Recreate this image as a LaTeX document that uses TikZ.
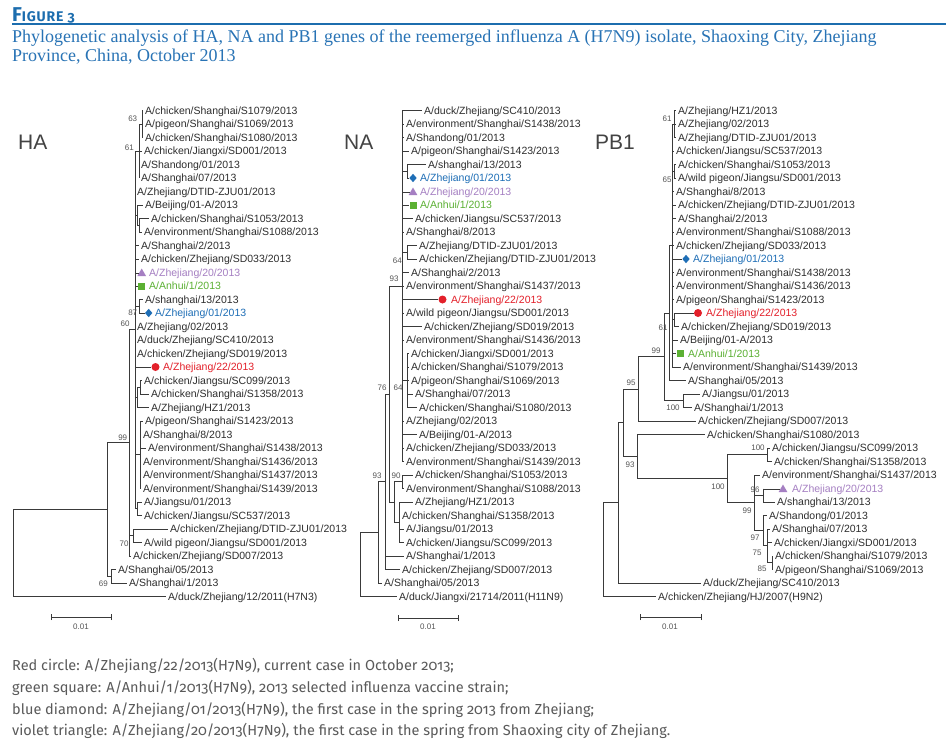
\documentclass[tikz,border=0pt]{standalone}
\usepackage{fontspec}
\setmainfont{Liberation Serif}
\newfontfamily\lblfont{Liberation Sans}
\newfontfamily\legfont{Fira Sans}[Numbers=OldStyle]
\newfontfamily\figfont{Fira Sans}[Numbers=OldStyle,LetterSpace=6]
\usetikzlibrary{shapes.geometric}
\definecolor{linec}{HTML}{3A3A3A}
\definecolor{txtc}{HTML}{2E2E2E}
\definecolor{bsc}{HTML}{555555}
\definecolor{redc}{HTML}{E3202A}
\definecolor{greenc}{HTML}{5BB033}
\definecolor{bluec}{HTML}{1E6EB6}
\definecolor{violetc}{HTML}{A57FC2}
\definecolor{figblue}{HTML}{1C6DAE}
\definecolor{capblue}{HTML}{2873B5}
\definecolor{legc}{HTML}{5A5A5A}
\tikzset{
  br/.style={draw=linec, line width=0.9pt},
  lf/.style={anchor=west, inner sep=0pt, text height=7.5pt, text depth=0pt,
    font=\lblfont\fontsize{10.5}{12}\selectfont, text=txtc},
  bsn/.style={inner sep=0pt, font=\lblfont\fontsize{8}{9}\selectfont, text=bsc},
  gname/.style={anchor=west, inner sep=0pt, font=\lblfont\fontsize{21}{24}\selectfont, text=txtc!90},
  mcirc/.style={circle, fill=redc, minimum size=8pt, inner sep=0pt},
  msq/.style={rectangle, fill=greenc, minimum size=7pt, inner sep=0pt},
  mdia/.style={diamond, fill=bluec, minimum width=7.5pt, minimum height=8.5pt, inner sep=0pt},
  mtri/.style={regular polygon, regular polygon sides=3, fill=violetc, minimum size=10pt, inner sep=0pt},
  legl/.style={anchor=base west, inner sep=0pt, font=\legfont\fontsize{14.5}{16}\selectfont, text=legc},
  capl/.style={anchor=base west, inner sep=0pt, font=\fontsize{18}{20}\selectfont, text=capblue},
}
\newcommand\vln[3]{\draw[br] (#1 |- #2) -- (#1 |- #3);}
\newcommand\hln[2]{\draw[br] (#1 |- #2) -- (#2);}
\newcommand\tips[2]{\foreach \t in {#2}{\draw[br] (#1 |- \t) -- ([xshift=-2pt]\t.west);}}
\newcommand\mtip[2]{\draw[br] (#1 |- #2) -- (#2.west);}
\begin{document}
\begin{tikzpicture}[x=1pt,y=-1pt]
\useasboundingbox[fill=white] (0,0) rectangle (949,741);

% ---------- title ----------
\node[anchor=base west, inner sep=0pt, text=figblue, font=\figfont\bfseries] (fig) at (12,21.5)
  {{\fontsize{20}{20}\selectfont F}{\fontsize{14}{14}\selectfont IGURE 3}};
\draw[figblue, line width=2pt] (12,24) -- (946,24);
\node[capl] (cap1) at (12,43) {Phylogenetic analysis of HA, NA and PB1 genes of the reemerged influenza A (H7N9) isolate, Shaoxing City, Zhejiang};
\node[capl] (cap2) at (12,62) {Province, China, October 2013};

% ---------- group names ----------
\node[gname] (tHA) at (18,142.5) {HA};
\node[gname] (tNA) at (344,142.5) {NA};
\node[gname] (tPB) at (595,142.5) {PB1};

% =============== HA ===============
\node[lf] (a1) at (145,110.5) {A/chicken/Shanghai/S1079/2013};
\node[lf] (a2) at (145,124) {A/pigeon/Shanghai/S1069/2013};
\node[lf] (a3) at (145,137.5) {A/chicken/Shanghai/S1080/2013};
\node[lf] (a4) at (144,151) {A/chicken/Jiangxi/SD001/2013};
\node[lf] (a5) at (141,164.5) {A/Shandong/01/2013};
\node[lf] (a6) at (141,178) {A/Shanghai/07/2013};
\node[lf] (a7) at (137,191.5) {A/Zhejiang/DTID-ZJU01/2013};
\node[lf] (a8) at (145,205) {A/Beijing/01-A/2013};
\node[lf] (a9) at (151,218.5) {A/chicken/Shanghai/S1053/2013};
\node[lf] (a10) at (144,232) {A/environment/Shanghai/S1088/2013};
\node[lf] (a11) at (141,245.5) {A/Shanghai/2/2013};
\node[lf] (a12) at (141,259) {A/chicken/Zhejiang/SD033/2013};
\node[mtri] (am13) at (141.7,273.5) {};
\node[lf,text=violetc] (a13) at (149,272.5) {A/Zhejiang/20/2013};
\node[msq] (am14) at (141.7,286) {};
\node[lf,text=greenc] (a14) at (149,286) {A/Anhui/1/2013};
\node[lf] (a15) at (145,299.5) {A/shanghai/13/2013};
\node[mdia] (am16) at (148.7,313) {};
\node[lf,text=bluec] (a16) at (155,313) {A/Zhejiang/01/2013};
\node[lf] (a17) at (137,326.5) {A/Zhejiang/02/2013};
\node[lf] (a18) at (137,340) {A/duck/Zhejiang/SC410/2013};
\node[lf] (a19) at (137,353.5) {A/chicken/Zhejiang/SD019/2013};
\node[mcirc] (am20) at (155.5,367) {};
\node[lf,text=redc] (a20) at (163,367) {A/Zhejiang/22/2013};
\node[lf] (a21) at (144,380.5) {A/chicken/Jiangsu/SC099/2013};
\node[lf] (a22) at (151,394) {A/chicken/Shanghai/S1358/2013};
\node[lf] (a23) at (151,407.5) {A/Zhejiang/HZ1/2013};
\node[lf] (a24) at (145,421) {A/pigeon/Shanghai/S1423/2013};
\node[lf] (a25) at (143,434.5) {A/Shanghai/8/2013};
\node[lf] (a26) at (148,448) {A/environment/Shanghai/S1438/2013};
\node[lf] (a27) at (143,461.5) {A/environment/Shanghai/S1436/2013};
\node[lf] (a28) at (143,475) {A/environment/Shanghai/S1437/2013};
\node[lf] (a29) at (143,488.5) {A/environment/Shanghai/S1439/2013};
\node[lf] (a30) at (144,502) {A/Jiangsu/01/2013};
\node[lf] (a31) at (144,515.5) {A/chicken/Jiangsu/SC537/2013};
\node[lf] (a32) at (170,529) {A/chicken/Zhejiang/DTID-ZJU01/2013};
\node[lf] (a33) at (144,542.5) {A/wild pigeon/Jiangsu/SD001/2013};
\node[lf] (a34) at (133,556) {A/chicken/Zhejiang/SD007/2013};
\node[lf] (a35) at (118,569.5) {A/Shanghai/05/2013};
\node[lf] (a36) at (129,583) {A/Shanghai/1/2013};
\node[lf] (a37) at (168,596.5) {A/duck/Zhejiang/12/2011(H7N3)};

\coordinate (aR) at (13,553);
\coordinate (aA) at (107,509.6);
\coordinate (a69) at (111,576.25);
\coordinate (a99) at (129,442.9);
\coordinate (a60) at (135,329.9);
\coordinate (a61) at (139,151);
\coordinate (a63) at (142,124);
\coordinate (aX) at (137,215.1);
\coordinate (aX2) at (139,225.25);
\coordinate (a87) at (139,306.25);
\coordinate (aY) at (137,397.4);
\coordinate (aZ) at (140,387.25);
\coordinate (aW) at (140,454.75);
\coordinate (aV) at (137,508.75);
\coordinate (a70) at (133,535.75);

\vln{aR}{aA}{a37}
\vln{aA}{a99}{a69}
\vln{a69}{a35}{a36}
\vln{a99}{a60}{a34}
\vln{a60}{a61}{aV}
\vln{a61}{a63}{a6}
\vln{a63}{a1}{a3}
\vln{aX}{a8}{aX2}
\vln{aX2}{a9}{a10}
\vln{a87}{a15}{a16}
\vln{aY}{aZ}{a23}
\vln{aZ}{a21}{a22}
\vln{aW}{a24}{a29}
\vln{aV}{a30}{a31}
\vln{a70}{a32}{a33}
\hln{aR}{aA} \hln{aA}{a99} \hln{aA}{a69} \hln{a99}{a60} \hln{a99}{a70}
\hln{a60}{a61} \hln{a61}{a63} \hln{a60}{aX} \hln{aX}{aX2} \hln{a60}{a87}
\hln{a60}{aY} \hln{aY}{aZ} \hln{a60}{aW} \hln{a60}{aV}
\tips{a63}{a1,a2,a3}
\tips{a61}{a4,a5,a6}
\tips{a60}{a7,a11,a12,a17,a18,a19}
\tips{aX}{a8}
\tips{aX2}{a9,a10}
\tips{a87}{a15}
\mtip{a87}{am16} \mtip{a60}{am13} \mtip{a60}{am14} \mtip{a60}{am20}
\tips{aZ}{a21,a22}
\tips{aY}{a23}
\tips{aW}{a24,a25,a26,a27,a28,a29}
\tips{aV}{a30,a31}
\tips{a70}{a32,a33}
\tips{a99}{a34}
\tips{a69}{a35,a36}
\tips{aR}{a37}

\node[bsn] (ab63) at (132.7,118.3) {63};
\node[bsn] (ab61) at (129.3,147.7) {61};
\node[bsn] (ab87) at (132.7,312.3) {87};
\node[bsn] (ab60) at (125,324) {60};
\node[bsn] (ab99) at (122.7,437.7) {99};
\node[bsn] (ab70) at (124,543.3) {70};
\node[bsn] (ab69) at (103.3,583.3) {69};

\coordinate (sa1) at (51,617); \coordinate (sa2) at (111,617);
\draw[br] (sa1) -- (sa2);
\draw[br] ([yshift=-3pt]sa1) -- ([yshift=3pt]sa1);
\draw[br] ([yshift=-3pt]sa2) -- ([yshift=3pt]sa2);
\node[bsn] (sal) at (81,627) {0.01};

% =============== NA ===============
\node[lf] (b1) at (424,110.5) {A/duck/Zhejiang/SC410/2013};
\node[lf] (b2) at (406,124) {A/environment/Shanghai/S1438/2013};
\node[lf] (b3) at (406,137.5) {A/Shandong/01/2013};
\node[lf] (b4) at (411,151) {A/pigeon/Shanghai/S1423/2013};
\node[lf] (b5) at (428,164.5) {A/shanghai/13/2013};
\node[mdia] (bm6) at (413,178) {};
\node[lf,text=bluec] (b6) at (420,178) {A/Zhejiang/01/2013};
\node[mtri] (bm7) at (413,192.5) {};
\node[lf,text=violetc] (b7) at (420,191.5) {A/Zhejiang/20/2013};
\node[msq] (bm8) at (413,205) {};
\node[lf,text=greenc] (b8) at (420,205) {A/Anhui/1/2013};
\node[lf] (b9) at (415,218.5) {A/chicken/Jiangsu/SC537/2013};
\node[lf] (b10) at (406,232) {A/Shanghai/8/2013};
\node[lf] (b11) at (419,245.5) {A/Zhejiang/DTID-ZJU01/2013};
\node[lf] (b12) at (419,259) {A/chicken/Zhejiang/DTID-ZJU01/2013};
\node[lf] (b13) at (411,272.5) {A/Shanghai/2/2013};
\node[lf] (b14) at (406,286) {A/environment/Shanghai/S1437/2013};
\node[mcirc] (bm15) at (442.5,299.5) {};
\node[lf,text=redc] (b15) at (451,299.5) {A/Zhejiang/22/2013};
\node[lf] (b16) at (406,313) {A/wild pigeon/Jiangsu/SD001/2013};
\node[lf] (b17) at (424,326.5) {A/chicken/Zhejiang/SD019/2013};
\node[lf] (b18) at (406,340) {A/environment/Shanghai/S1436/2013};
\node[lf] (b19) at (411,353.5) {A/chicken/Jiangxi/SD001/2013};
\node[lf] (b20) at (411,367) {A/chicken/Shanghai/S1079/2013};
\node[lf] (b21) at (411,380.5) {A/pigeon/Shanghai/S1069/2013};
\node[lf] (b22) at (415,394) {A/Shanghai/07/2013};
\node[lf] (b23) at (419,407.5) {A/chicken/Shanghai/S1080/2013};
\node[lf] (b24) at (406,421) {A/Zhejiang/02/2013};
\node[lf] (b25) at (419,434.5) {A/Beijing/01-A/2013};
\node[lf] (b26) at (406,448) {A/chicken/Zhejiang/SD033/2013};
\node[lf] (b27) at (406,461.5) {A/environment/Shanghai/S1439/2013};
\node[lf] (b28) at (415,475) {A/chicken/Shanghai/S1053/2013};
\node[lf] (b29) at (406,488.5) {A/environment/Shanghai/S1088/2013};
\node[lf] (b30) at (415,502) {A/Zhejiang/HZ1/2013};
\node[lf] (b31) at (402,515.5) {A/chicken/Shanghai/S1358/2013};
\node[lf] (b32) at (406,529) {A/Jiangsu/01/2013};
\node[lf] (b33) at (406,542.5) {A/chicken/Jiangsu/SC099/2013};
\node[lf] (b34) at (406,556) {A/Shanghai/1/2013};
\node[lf] (b35) at (402,569.5) {A/chicken/Zhejiang/SD007/2013};
\node[lf] (b36) at (384,583) {A/Shanghai/05/2013};
\node[lf] (b37) at (399,596.5) {A/duck/Jiangxi/21714/2011(H11N9)};

\coordinate (bR) at (360,560);
\coordinate (b93b) at (378,532.4);
\coordinate (b76) at (385,481.75);
\coordinate (b93a) at (389,394);
\coordinate (bbb) at (402,286);
\coordinate (b5n) at (407,171.25);
\coordinate (b11n) at (407,252.25);
\coordinate (b64) at (407,380.5);
\coordinate (bRn) at (394,502);
\coordinate (b90) at (402,481.75);
\coordinate (bQ) at (399,522.25);

\vln{bR}{b93b}{b37}
\vln{b93b}{b76}{b36}
\vln{b76}{b93a}{b35}
\vln{b93a}{bbb}{bRn}
\vln{bbb}{b1}{b27}
\vln{b5n}{b5}{b6}
\vln{b11n}{b11}{b12}
\vln{b64}{b19}{b23}
\vln{bRn}{b90}{bQ}
\vln{b90}{b28}{b29}
\vln{bQ}{b30}{b33}
\hln{bR}{b93b} \hln{b93b}{b76} \hln{b76}{b93a} \hln{b93a}{bbb} \hln{b93a}{bRn}
\hln{bbb}{b5n} \hln{bbb}{b11n} \hln{bbb}{b64} \hln{bRn}{b90} \hln{bRn}{bQ}
\tips{bbb}{b1,b2,b3,b4,b9,b10,b13,b14,b16,b17,b18,b24,b25,b26,b27}
\mtip{b5n}{bm6} \mtip{bbb}{bm7} \mtip{bbb}{bm8} \mtip{bbb}{bm15}
\tips{b5n}{b5}
\tips{b11n}{b11,b12}
\tips{b64}{b19,b20,b21,b22,b23}
\tips{b90}{b28,b29}
\tips{bQ}{b30,b31,b32,b33}
\tips{b76}{b34,b35}
\tips{b93b}{b36}
\tips{bR}{b37}

\node[bsn] (bb64a) at (397.3,260.7) {64};
\node[bsn] (bb93a) at (394,279) {93};
\node[bsn] (bb76) at (382,388) {76};
\node[bsn] (bb64b) at (398,388) {64};
\node[bsn] (bb93b) at (377,476) {93};
\node[bsn] (bb90) at (396,476) {90};

\coordinate (sb1) at (398,618); \coordinate (sb2) at (458,618);
\draw[br] (sb1) -- (sb2);
\draw[br] ([yshift=-3pt]sb1) -- ([yshift=3pt]sb1);
\draw[br] ([yshift=-3pt]sb2) -- ([yshift=3pt]sb2);
\node[bsn] (sbl) at (428,627) {0.01};

% =============== PB1 ===============
\node[lf] (c1) at (678,110.5) {A/Zhejiang/HZ1/2013};
\node[lf] (c2) at (678,124) {A/Zhejiang/02/2013};
\node[lf] (c3) at (678,137.5) {A/Zhejiang/DTID-ZJU01/2013};
\node[lf] (c4) at (676,151) {A/chicken/Jiangsu/SC537/2013};
\node[lf] (c5) at (678,164.5) {A/chicken/Shanghai/S1053/2013};
\node[lf] (c6) at (678,178) {A/wild pigeon/Jiangsu/SD001/2013};
\node[lf] (c7) at (676,191.5) {A/Shanghai/8/2013};
\node[lf] (c8) at (678,205) {A/chicken/Zhejiang/DTID-ZJU01/2013};
\node[lf] (c9) at (678,218.5) {A/Shanghai/2/2013};
\node[lf] (c10) at (676,232) {A/environment/Shanghai/S1088/2013};
\node[lf] (c11) at (676,245.5) {A/chicken/Zhejiang/SD033/2013};
\node[mdia] (cm12) at (686,259) {};
\node[lf,text=bluec] (c12) at (693,259) {A/Zhejiang/01/2013};
\node[lf] (c13) at (676,272.5) {A/environment/Shanghai/S1438/2013};
\node[lf] (c14) at (676,286) {A/environment/Shanghai/S1436/2013};
\node[lf] (c15) at (676,299.5) {A/pigeon/Shanghai/S1423/2013};
\node[mcirc] (cm16) at (698,313) {};
\node[lf,text=redc] (c16) at (706,313) {A/Zhejiang/22/2013};
\node[lf] (c17) at (681,326.5) {A/chicken/Zhejiang/SD019/2013};
\node[lf] (c18) at (680,340) {A/Beijing/01-A/2013};
\node[msq] (cm19) at (680,353.5) {};
\node[lf,text=greenc] (c19) at (688,353.5) {A/Anhui/1/2013};
\node[lf] (c20) at (683,367) {A/environment/Shanghai/S1439/2013};
\node[lf] (c21) at (688,380.5) {A/Shanghai/05/2013};
\node[lf] (c22) at (702,394) {A/Jiangsu/01/2013};
\node[lf] (c23) at (694,407.5) {A/Shanghai/1/2013};
\node[lf] (c24) at (698,421) {A/chicken/Zhejiang/SD007/2013};
\node[lf] (c25) at (707,434.5) {A/chicken/Shanghai/S1080/2013};
\node[lf] (c26) at (772,448) {A/chicken/Jiangsu/SC099/2013};
\node[lf] (c27) at (774,461.5) {A/chicken/Shanghai/S1358/2013};
\node[lf] (c28) at (762,475) {A/environment/Shanghai/S1437/2013};
\node[mtri] (cm29) at (783,489.5) {};
\node[lf,text=violetc] (c29) at (792,488.5) {A/Zhejiang/20/2013};
\node[lf] (c30) at (777,502) {A/shanghai/13/2013};
\node[lf] (c31) at (769,515.5) {A/Shandong/01/2013};
\node[lf] (c32) at (772,529) {A/Shanghai/07/2013};
\node[lf] (c33) at (774,542.5) {A/chicken/Jiangxi/SD001/2013};
\node[lf] (c34) at (775,556) {A/chicken/Shanghai/S1079/2013};
\node[lf] (c35) at (775,569.5) {A/pigeon/Shanghai/S1069/2013};
\node[lf] (c36) at (703,583) {A/duck/Zhejiang/SC410/2013};
\node[lf] (c37) at (658,596.5) {A/chicken/Zhejiang/HJ/2007(H9N2)};

\coordinate (cR) at (603,550);
\coordinate (c618) at (618,502.9);
\coordinate (c623) at (623,422.8);
\coordinate (c95) at (638,389);
\coordinate (c99) at (664,356.9);
\coordinate (c669) at (669,313);
\coordinate (cbb) at (672,245.5);
\coordinate (c61) at (674,124);
\coordinate (c65) at (674,171.25);
\coordinate (c16n) at (674,319.75);
\coordinate (c100) at (683,400.75);
\coordinate (c93) at (637,456.65);
\coordinate (c100b) at (727,478.8);
\coordinate (c100c) at (767,454.75);
\coordinate (c99b) at (754,502.85);
\coordinate (c96) at (763,495.25);
\coordinate (c97) at (763,530.7);
\coordinate (c75) at (767,545.9);
\coordinate (c85) at (772,562.75);

\vln{cR}{c618}{c37}
\vln{c618}{c623}{c36}
\vln{c623}{c95}{c93}
\vln{c95}{c99}{c24}
\vln{c99}{c669}{c100}
\vln{c669}{cbb}{c21}
\vln{cbb}{c61}{c20}
\vln{c61}{c1}{c3}
\vln{c65}{c5}{c6}
\vln{c16n}{c16}{c17}
\vln{c100}{c22}{c23}
\vln{c93}{c25}{c100b}
\vln{c100b}{c100c}{c99b}
\vln{c100c}{c26}{c27}
\vln{c99b}{c28}{c97}
\vln{c96}{c29}{c30}
\vln{c97}{c31}{c75}
\vln{c75}{c32}{c85}
\vln{c85}{c34}{c35}
\hln{cR}{c618} \hln{c618}{c623} \hln{c623}{c95} \hln{c623}{c93} \hln{c95}{c99}
\hln{c99}{c669} \hln{c99}{c100} \hln{c669}{cbb} \hln{cbb}{c61} \hln{cbb}{c65}
\hln{cbb}{c16n} \hln{c93}{c100b} \hln{c100b}{c100c} \hln{c100b}{c99b}
\hln{c99b}{c96} \hln{c99b}{c97} \hln{c97}{c75} \hln{c75}{c85}
\tips{c61}{c1,c2,c3}
\tips{cbb}{c4,c7,c8,c9,c10,c11,c13,c14,c15,c18,c20}
\mtip{cbb}{cm12} \mtip{cbb}{cm19} \mtip{c16n}{cm16} \mtip{c96}{cm29}
\tips{c65}{c5,c6}
\tips{c16n}{c17}
\tips{c669}{c21}
\tips{c100}{c22,c23}
\tips{c95}{c24}
\tips{c93}{c25}
\tips{c100c}{c26,c27}
\tips{c99b}{c28}
\tips{c96}{c30}
\tips{c97}{c31}
\tips{c75}{c32,c33}
\tips{c85}{c34,c35}
\tips{c618}{c36}
\tips{cR}{c37}

\node[bsn] (cb61a) at (667,119) {61};
\node[bsn] (cb65) at (667,180) {65};
\node[bsn] (cb61b) at (663,328) {61};
\node[bsn] (cb99a) at (656,351) {99};
\node[bsn] (cb95) at (631,383) {95};
\node[bsn] (cb100a) at (673,408) {100};
\node[bsn] (cb93) at (630,465) {93};
\node[bsn] (cb100c) at (758,448) {100};
\node[bsn] (cb100b) at (718,487) {100};
\node[bsn] (cb96) at (755,490) {96};
\node[bsn] (cb99b) at (747,511) {99};
\node[bsn] (cb97) at (755,538) {97};
\node[bsn] (cb75) at (757,553) {75};
\node[bsn] (cb85) at (762,569) {85};

\coordinate (sc1) at (640,617); \coordinate (sc2) at (701,617);
\draw[br] (sc1) -- (sc2);
\draw[br] ([yshift=-3pt]sc1) -- ([yshift=3pt]sc1);
\draw[br] ([yshift=-3pt]sc2) -- ([yshift=3pt]sc2);
\node[bsn] (scl) at (670,627) {0.01};

% ---------- legend ----------
\node[legl] (lg1) at (12,670) {Red circle: A/Zhejiang/22/2013(H7N9), current case in October 2013;};
\node[legl] (lg2) at (12,692) {green square: A/Anhui/1/2013(H7N9), 2013 selected influenza vaccine strain;};
\node[legl] (lg3) at (12,714) {blue diamond: A/Zhejiang/01/2013(H7N9), the first case in the spring 2013 from Zhejiang;};
\node[legl] (lg4) at (12,735) {violet triangle: A/Zhejiang/20/2013(H7N9), the first case in the spring from Shaoxing city of Zhejiang.};
\end{tikzpicture}
\end{document}
